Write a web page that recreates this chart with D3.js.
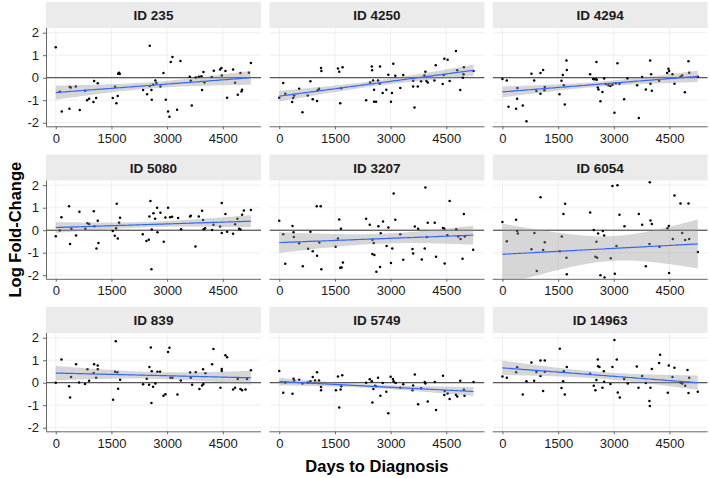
<!DOCTYPE html>
<html>
<head>
<meta charset="utf-8">
<script src="https://cdn.jsdelivr.net/npm/d3@7"></script>
<style>
  body { margin: 0; background: #fff; }
  text { font-family: "Liberation Sans", Arial, Helvetica, sans-serif; }
</style>
</head>
<body>
<svg id="chart" width="709" height="478"></svg>
<script>
// facet labels, in reading order
const panelIds = ['ID 235', 'ID 4250', 'ID 4294', 'ID 5080', 'ID 3207', 'ID 6054', 'ID 839', 'ID 5749', 'ID 14963'];
const xTicks = [0, 1500, 3000, 4500];
const yTicks = [-2, -1, 0, 1, 2];

// [days to diagnosis, log fold-change]
const id235 = [[0,1.35],[108,-0.62],[162,-1.5],[368,-1.38],[377,-0.41],[404,-0.44],[539,-0.39],[647,-1.44],[790,-0.58],[844,-1.0],[898,-0.93],[1015,-1.08],[1033,-0.15],[1087,-0.9],[1131,-0.25],[1536,-0.9],[1598,-0.4],[1634,-1.14],[1670,-0.81],[1679,0.18],[1706,0.22],[1724,0.16],[2353,-0.55],[2461,-0.73],[2532,1.42],[2532,-0.37],[2577,-0.55],[2586,-0.98],[2622,-0.31],[2685,-0.12],[2712,-0.24],[2820,-0.39],[2901,0.21],[2964,-0.98],[3026,-1.5],[3062,-1.73],[3098,0.7],[3143,0.92],[3269,-1.42],[3359,0.74],[3610,0.04],[3637,-0.13],[3664,-1.24],[3772,0.01],[3853,0.04],[3924,0.06],[3942,-0.55],[3978,0.25],[4005,-0.21],[4203,0.03],[4257,0.31],[4427,0.36],[4463,0.43],[4472,0.1],[4571,0.3],[4616,-0.89],[4777,0.36],[4831,-0.22],[4903,-0.76],[4975,0.21],[5002,-0.61],[5020,-0.53],[5202,0.22],[5256,0.65]];
const id4250 = [[0,-0.89],[107,-0.24],[161,-0.71],[348,-1.08],[375,-0.9],[402,-0.79],[536,-0.49],[625,-1.53],[768,-0.79],[839,-0.16],[902,-0.96],[1018,-1.04],[1036,-0.56],[1072,-0.49],[1125,0.43],[1134,0.3],[1581,0.41],[1616,0.27],[1643,-1.13],[1670,-0.47],[1706,0.46],[2340,-1.0],[2447,-0.21],[2492,0.5],[2501,0.33],[2527,-0.12],[2554,-0.53],[2554,-1.07],[2608,-1.07],[2661,-0.12],[2706,-0.27],[2715,0.5],[2786,-0.68],[2884,-0.53],[2938,0.13],[3009,-1.07],[3036,-0.68],[3072,0.62],[3126,0.09],[3259,-0.46],[3340,0.12],[3607,-0.13],[3607,-0.39],[3643,-1.32],[3732,-0.39],[3821,-0.16],[3910,0.1],[3937,0.27],[3964,-0.15],[4000,-0.21],[4179,-0.12],[4215,0.55],[4402,-0.28],[4429,0.12],[4447,0.84],[4536,0.8],[4590,-0.15],[4760,1.19],[4795,0.33],[4876,-0.55],[4947,0.0],[4965,0.15],[4974,0.46],[5233,0.3]];
const id4294 = [[0,-0.06],[117,-0.12],[162,-1.29],[368,-1.38],[395,-0.93],[404,-0.46],[548,-1.23],[647,-1.93],[781,0.18],[853,-0.12],[916,-0.59],[1024,-0.71],[1024,0.21],[1096,0.34],[1131,-0.56],[1140,-0.41],[1536,-0.74],[1590,-0.13],[1625,0.12],[1652,-0.34],[1679,-1.19],[1724,0.76],[1733,0.34],[2362,0.15],[2442,-0.06],[2469,-0.07],[2514,-0.07],[2532,0.7],[2541,-0.09],[2568,-0.44],[2586,-0.52],[2640,-1.05],[2694,-0.64],[2739,-0.03],[2784,-0.28],[2856,-0.33],[2909,-0.37],[2963,-0.31],[3017,-1.56],[3053,-0.25],[3098,0.64],[3152,-0.27],[3277,-0.96],[3367,-0.03],[3628,-0.34],[3673,-1.79],[3763,0.03],[3862,-0.52],[3978,0.76],[3987,-0.27],[4005,0.15],[4023,-0.58],[4221,-0.13],[4437,0.21],[4472,0.4],[4490,0.3],[4580,0.15],[4634,-0.27],[4796,0.04],[4841,0.1],[4913,-0.65],[5012,0.73],[5030,0.22],[5262,0.04]];
const id5080 = [[0,-0.27],[108,-0.01],[153,0.58],[359,1.07],[386,-0.61],[422,0.06],[548,-0.24],[637,0.82],[799,0.07],[853,0.31],[898,0.28],[1024,0.84],[1042,0.18],[1096,-0.81],[1131,0.42],[1149,-0.57],[1536,-0.04],[1590,-0.25],[1625,0.09],[1643,1.18],[1670,-0.37],[1706,0.33],[1733,0.55],[2344,-0.18],[2443,-0.48],[2505,-0.42],[2523,0.61],[2550,1.3],[2577,-1.73],[2586,0.03],[2631,0.75],[2676,0.51],[2730,1.0],[2739,-0.09],[2820,0.78],[2909,-0.51],[2954,0.57],[3026,1.0],[3080,0.58],[3134,0.6],[3296,0.54],[3377,0.04],[3619,0.61],[3637,0.64],[3763,-0.72],[3853,0.61],[3942,0.87],[3969,0.45],[3987,0.04],[4023,0.09],[4212,0.01],[4248,0.24],[4427,0.16],[4472,1.21],[4472,-0.12],[4571,0.72],[4616,-0.07],[4777,-0.16],[4831,0.27],[4894,0.51],[4939,0.06],[4975,0.03],[5020,0.69],[5067,0.88],[5256,0.9]];
const id3207 = [[0,0.42],[107,-0.18],[161,-1.49],[357,0.19],[384,-0.09],[393,-0.3],[536,-0.58],[634,-1.6],[777,-0.82],[839,-0.07],[902,-0.93],[1009,1.07],[1018,-1.13],[1080,-0.55],[1116,1.06],[1134,-1.73],[1518,-0.73],[1581,-0.37],[1616,0.48],[1643,-1.67],[1661,0.06],[1679,-1.66],[1714,-1.43],[2340,0.51],[2438,0.24],[2509,-0.42],[2509,-1.06],[2545,-0.57],[2563,-1.1],[2616,-1.85],[2670,0.18],[2715,-1.64],[2733,-0.13],[2795,0.39],[2893,-0.7],[2938,0.12],[3009,-1.46],[3045,-0.81],[3081,1.63],[3126,0.46],[3259,-0.18],[3340,-1.31],[3590,-0.84],[3607,-1.03],[3652,0.16],[3741,0.07],[3839,-1.3],[3919,-0.81],[3937,1.9],[3973,-0.3],[4000,0.33],[4188,0.33],[4224,-1.18],[4411,0.1],[4447,0.06],[4456,-1.48],[4527,-0.22],[4590,1.3],[4768,0.04],[4822,-0.28],[4884,-0.39],[4938,-1.27],[4974,0.72],[5000,-0.28],[5224,-0.87]];
const id6054 = [[0,0.36],[117,-0.49],[368,0.46],[395,-0.03],[413,-0.15],[781,-0.85],[862,-0.12],[925,-1.81],[1024,1.46],[1096,-0.88],[1140,-0.54],[1545,-0.93],[1598,-0.28],[1643,0.72],[1688,1.18],[1724,-1.22],[1733,-1.96],[2362,0.79],[2460,0.01],[2505,-1.18],[2532,-0.51],[2550,-1.22],[2577,-0.15],[2640,-2.0],[2703,-0.03],[2739,-0.24],[2750,-2.1],[2918,-1.25],[2963,1.96],[3026,-1.93],[3071,-0.7],[3098,2.0],[3152,0.69],[3287,0.18],[3673,0.72],[3763,0.24],[3862,-1.6],[3960,-0.61],[3969,2.13],[3987,0.43],[4023,0.28],[4230,-0.73],[4445,0.09],[4481,0.19],[4490,-1.9],[4589,-0.39],[4634,1.54],[4796,1.19],[4841,-0.12],[4922,-0.43],[5012,1.19],[5030,-0.39],[5262,-0.97]];
const id839 = [[0,0.0],[153,1.03],[359,-0.16],[386,-0.66],[413,0.25],[548,0.82],[628,0.01],[790,-0.06],[853,0.6],[898,0.09],[1024,0.43],[1033,0.82],[1087,0.22],[1131,0.76],[1131,0.6],[1545,-0.76],[1598,0.49],[1616,1.84],[1661,0.46],[1679,-0.27],[1733,0.13],[2353,-0.07],[2452,0.18],[2514,-0.09],[2523,0.7],[2559,1.57],[2577,-0.9],[2586,0.51],[2622,-0.18],[2685,-0.03],[2739,0.49],[2811,0.49],[2901,-0.58],[2955,-0.51],[3026,1.37],[3062,1.55],[3089,0.22],[3143,0.22],[3278,-0.52],[3368,0.1],[3619,0.45],[3637,0.22],[3673,-0.09],[3772,0.46],[3871,-0.28],[3942,-0.12],[3969,0.6],[3978,-0.06],[4032,0.42],[4212,0.82],[4248,1.5],[4436,-0.22],[4472,0.61],[4472,0.52],[4571,1.22],[4616,1.13],[4777,-0.3],[4831,-0.22],[4903,0.16],[4975,-0.28],[5020,-0.34],[5113,-0.3],[5154,0.16],[5256,0.55]];
const id5749 = [[0,0.52],[107,-0.45],[161,0.01],[357,-0.49],[384,0.18],[402,0.1],[536,0.13],[625,-0.04],[768,0.01],[839,0.06],[902,0.25],[964,0.1],[1018,0.46],[1072,0.1],[1125,-0.19],[1125,-0.34],[1527,-0.34],[1581,0.28],[1616,-1.1],[1652,-0.3],[1670,-0.16],[1697,0.33],[2340,0.0],[2438,0.15],[2492,0.07],[2509,-0.88],[2536,-0.28],[2581,-0.13],[2608,-0.16],[2661,0.22],[2724,-0.58],[2786,-0.01],[2884,-0.4],[2938,-1.36],[3000,0.27],[3063,0.16],[3081,0.07],[3134,-0.01],[3259,-0.22],[3340,-0.07],[3590,-0.34],[3607,-0.12],[3652,0.36],[3741,-0.96],[3821,-0.25],[3919,0.03],[3937,-0.04],[4000,-0.84],[4188,0.03],[4224,-1.21],[4411,0.31],[4447,-0.55],[4456,-0.37],[4536,-0.48],[4590,-0.72],[4759,-0.54],[4795,-0.61],[4875,0.09],[4974,-0.31],[4991,-0.58],[5233,0.03]];
const id14963 = [[0,0.28],[117,0.22],[368,0.46],[395,0.69],[548,-0.52],[647,0.07],[781,0.9],[853,0.09],[916,0.48],[1024,0.3],[1024,0.99],[1096,-0.37],[1140,0.99],[1140,0.49],[1545,1.51],[1590,-0.24],[1634,0.06],[1652,0.51],[1679,-0.52],[1733,0.7],[2362,0.4],[2460,-0.13],[2505,-0.34],[2532,0.12],[2568,1.03],[2577,0.73],[2613,0.7],[2694,-0.22],[2730,0.51],[2739,0.04],[2909,-0.06],[2963,0.7],[3017,1.9],[3080,1.03],[3107,-0.43],[3161,-0.66],[3278,0.16],[3376,-0.03],[3619,0.72],[3664,-0.22],[3763,0.3],[3862,-0.01],[3960,-0.81],[3969,-1.03],[3987,-0.22],[4023,0.61],[4221,0.88],[4248,1.24],[4454,-0.45],[4481,0.76],[4580,0.25],[4634,0.67],[4796,0.01],[4841,-0.04],[4922,-0.13],[4985,0.57],[5012,-0.46],[5030,0.22],[5262,-0.4]];

// linear fit: value at first / last day,
// and half-width of the confidence band at the left end, narrowest point, right end
const fitStart = [-0.66, -0.82, -0.63, 0.12, -0.55, -1.07, 0.43, 0.05, 0.66];
const fitEnd = [0.0, 0.33, 0.06, 0.4, -0.22, -0.61, 0.22, -0.39, 0.0];
const bandLeft = [0.31, 0.24, 0.24, 0.24, 0.46, 1.36, 0.32, 0.17, 0.32];
const bandMid = [0.14, 0.12, 0.11, 0.12, 0.22, 0.55, 0.15, 0.08, 0.15];
const bandRight = [0.31, 0.25, 0.25, 0.27, 0.42, 1.09, 0.31, 0.2, 0.32];

const panelData = [id235, id4250, id4294, id5080, id3207, id6054, id839, id5749, id14963];

const svg = d3.select('#chart');

const colLeft = [46, 269.5, 492.7];
const rowTop = [28, 180.5, 333];
const panelW = 215;
const panelH = 98.3;
const stripH = 26;

const x = d3.scaleLinear().domain([-263, 5529]).range([0, panelW]);
const y = d3.scaleLinear().domain([-2.16, 2.21]).range([panelH, 0]);


// straight line with a hyperbolic band through the three read half-widths
function smoothCurve(i) {
  const [x0, x1] = d3.extent(panelData[i], d => d[0]);
  const hm = bandMid[i];
  const a = Math.sqrt(Math.max(bandLeft[i] ** 2 - hm ** 2, 0));
  const b = Math.sqrt(Math.max(bandRight[i] ** 2 - hm ** 2, 0));
  const rk = (a + b) / (x1 - x0);
  const xc = x0 + a / rk;

  return d3.range(0, 81).map(k => {
    const xv = x0 + (x1 - x0) * k / 80;
    const yv = fitStart[i] + (fitEnd[i] - fitStart[i]) * (xv - x0) / (x1 - x0);
    const h = Math.sqrt(hm ** 2 + (rk * (xv - xc)) ** 2);
    return {x: xv, y: yv, lo: yv - h, hi: yv + h};
  });
}


panelIds.forEach((id, i) => {
  const col = i % 3;
  const row = Math.floor(i / 3);
  const pts = panelData[i];

  const g = svg.append('g')
      .attr('transform', `translate(${colLeft[col]},${rowTop[row]})`);

  // strip
  g.append('rect')
      .attr('x', 0)
      .attr('y', -stripH)
      .attr('width', panelW)
      .attr('height', stripH)
      .attr('fill', '#ebebeb');

  g.append('text')
      .attr('x', panelW / 2)
      .attr('y', -stripH / 2 + 5)
      .attr('text-anchor', 'middle')
      .attr('font-size', 13.5)
      .attr('font-weight', 'bold')
      .attr('fill', '#1a1a1a')
      .text(id);

  svg.append('clipPath')
      .attr('id', `clip-${i}`)
    .append('rect')
      .attr('width', panelW)
      .attr('height', panelH);

  const body = g.append('g')
      .attr('clip-path', `url(#clip-${i})`);

  // grid
  body.selectAll('.vgrid')
    .data(xTicks)
    .join('line')
      .attr('x1', d => x(d))
      .attr('x2', d => x(d))
      .attr('y1', 0)
      .attr('y2', panelH)
      .attr('stroke', '#ebebeb')
      .attr('stroke-width', 0.8);

  body.selectAll('.hgrid')
    .data(yTicks)
    .join('line')
      .attr('x1', 0)
      .attr('x2', panelW)
      .attr('y1', d => y(d))
      .attr('y2', d => y(d))
      .attr('stroke', '#ebebeb')
      .attr('stroke-width', 0.8);

  // zero line
  body.append('line')
      .attr('x1', 0)
      .attr('x2', panelW)
      .attr('y1', y(0))
      .attr('y2', y(0))
      .attr('stroke', '#1a1a1a')
      .attr('stroke-width', 0.9);

  // points
  body.selectAll('circle')
    .data(pts)
    .join('circle')
      .attr('cx', d => x(d[0]))
      .attr('cy', d => y(d[1]))
      .attr('r', 1.25)
      .attr('fill', '#000');

  // smooth
  const fit = smoothCurve(i);

  body.append('path')
      .datum(fit)
      .attr('d', d3.area()
          .x(d => x(d.x))
          .y0(d => y(d.lo))
          .y1(d => y(d.hi)))
      .attr('fill', '#999999')
      .attr('fill-opacity', 0.4);

  body.append('path')
      .datum(fit)
      .attr('d', d3.line()
          .x(d => x(d.x))
          .y(d => y(d.y)))
      .attr('fill', 'none')
      .attr('stroke', '#3366ff')
      .attr('stroke-width', 1.2);

  // x axis
  const xAxis = g.append('g')
      .attr('transform', `translate(0,${panelH})`)
      .call(d3.axisBottom(x).tickValues(xTicks).tickFormat(d => d).tickSize(3).tickPadding(4));

  xAxis.select('.domain')
      .attr('d', `M0,0.5H${panelW}`)
      .attr('stroke', '#666');
  xAxis.selectAll('.tick line').attr('stroke', '#666');
  xAxis.selectAll('.tick text')
      .attr('font-size', 13)
      .attr('fill', '#1a1a1a')
      .style('font-family', '"Liberation Sans", Arial, sans-serif');

  // y axis, first column only
  if (col === 0) {
    const yAxis = g.append('g')
        .call(d3.axisLeft(y).tickValues(yTicks).tickFormat(d => d).tickSize(3).tickPadding(4));

    yAxis.select('.domain')
        .attr('d', `M0.5,0V${panelH}`)
        .attr('stroke', '#666');
    yAxis.selectAll('.tick line').attr('stroke', '#666');
    yAxis.selectAll('.tick text')
        .attr('font-size', 13)
        .attr('fill', '#1a1a1a')
        .style('font-family', '"Liberation Sans", Arial, sans-serif');
  }
});

// axis titles
svg.append('text')
    .attr('x', (colLeft[0] + colLeft[2] + panelW) / 2)
    .attr('y', 472)
    .attr('text-anchor', 'middle')
    .attr('font-size', 16.5)
    .attr('font-weight', 'bold')
    .attr('fill', '#000')
    .text('Days to Diagnosis');

svg.append('text')
    .attr('transform', `translate(21,${(rowTop[0] + rowTop[2] + panelH) / 2}) rotate(-90)`)
    .attr('text-anchor', 'middle')
    .attr('font-size', 16.5)
    .attr('font-weight', 'bold')
    .attr('fill', '#000')
    .text('Log Fold-Change');
</script>
</body>
</html>
